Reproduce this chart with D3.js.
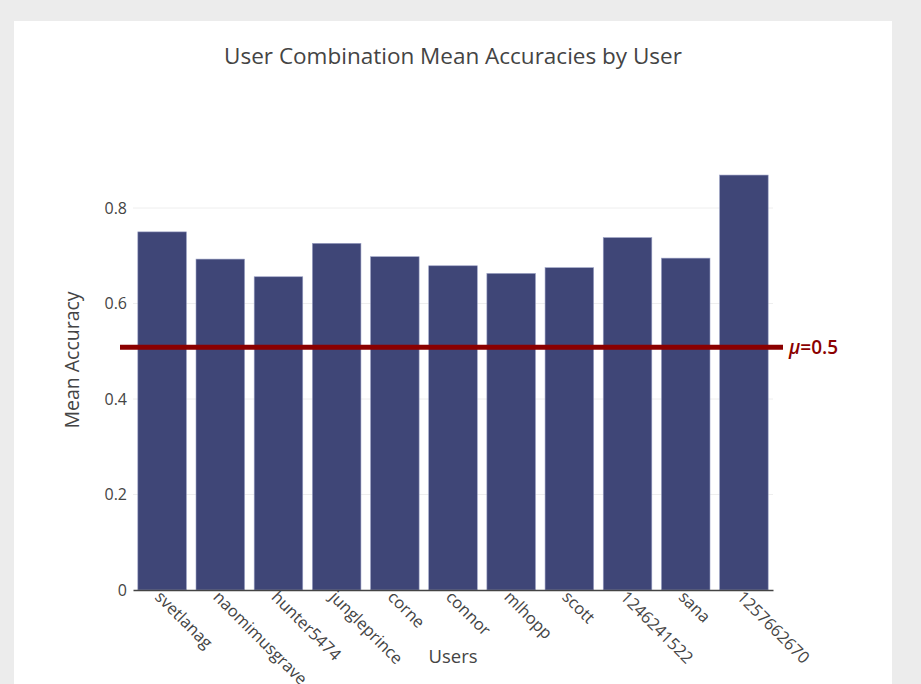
<!DOCTYPE html>
<html>
<head>
    <meta charset="utf-8">
    <title>User Combination Mean Accuracies by User</title>
    <style type="text/css">
        body { margin: 0; background: #ececec; }
        .axis text { font-family: "Open Sans", sans-serif; fill: #444; }
        .grid line { stroke: #eee; }
    </style>
</head>
<body>
<script src="https://cdn.jsdelivr.net/npm/d3@7/dist/d3.min.js"></script>
<script type="text/javascript">
    /*========= DATA =========*/
    var users = ['svetlanag', 'naomimusgrave', 'hunter5474', 'jungleprince', 'corne', 'connor',
                 'mlhopp', 'scott', '1246241522', 'sana', '1257662670'];
    var meanAccuracy = [0.750, 0.693, 0.656, 0.726, 0.698, 0.679, 0.663, 0.675, 0.738, 0.695, 0.869];
    var yTicks = [0, 0.2, 0.4, 0.6, 0.8];
    var chanceLevel = [0.5];

    /*========= SIZE =========*/
    var svgWidth = 921, svgHeight = 684;
    var plot = { left: 133, right: 773, zero: 590, top08: 208 };

    var svg = d3.select('body').append('svg')
        .attr('width', svgWidth).attr('height', svgHeight)
        .style('display', 'block');

    // card
    svg.append('rect').attr('x', 14).attr('y', 21).attr('width', 878).attr('height', 680).attr('fill', '#fff');

    // scales
    var x = d3.scaleBand().domain(users).range([plot.left, plot.right]).paddingInner(0.165).paddingOuter(0.083);
    var y = d3.scaleLinear().domain([0, 0.8]).range([plot.zero, plot.top08]);

    // grid
    svg.append('g').attr('class', 'grid')
        .selectAll('line').data(yTicks.filter(d => d > 0)).enter().append('line')
        .attr('x1', plot.left).attr('x2', plot.right)
        .attr('y1', d => y(d)).attr('y2', d => y(d));

    // bars
    svg.append('g').selectAll('rect').data(meanAccuracy).enter().append('rect')
        .attr('x', (d, i) => x(users[i]))
        .attr('y', d => y(d))
        .attr('width', x.bandwidth())
        .attr('height', d => y(0) - y(d))
        .attr('fill', '#3f4677')
        .attr('stroke', '#9aa0c4')
        .attr('stroke-width', 0.6);

    // y axis
    var yAxis = d3.axisLeft(y).tickValues(yTicks).tickSize(0).tickPadding(6)
        .tickFormat(d => d === 0 ? '0' : d3.format('.1f')(d));
    var yg = svg.append('g').attr('class', 'axis').attr('transform', 'translate(' + plot.left + ',0)').call(yAxis);
    yg.select('.domain').remove();
    yg.selectAll('text').attr('font-size', 16);

    // x axis
    var xAxis = d3.axisBottom(x).tickSize(0).tickPadding(0);
    var xg = svg.append('g').attr('class', 'axis').attr('transform', 'translate(0,' + plot.zero + ')').call(xAxis);
    xg.select('.domain').attr('stroke', '#444').attr('stroke-width', 1.5);
    xg.selectAll('.tick text')
        .attr('font-size', 16.5)
        .attr('text-anchor', 'start')
        .attr('dy', 0)
        .attr('y', 0)
        .attr('transform', 'translate(-8,8) rotate(45)');

    // mean line
    svg.append('g').selectAll('line').data(chanceLevel).enter().append('line')
        .attr('x1', 120).attr('x2', 783)
        .attr('y1', d => y(d) - 4).attr('y2', d => y(d) - 4)
        .attr('stroke', '#8b0000').attr('stroke-width', 5);
    svg.append('g').selectAll('text').data(chanceLevel).enter().append('text')
        .attr('x', 789).attr('y', d => y(d) + 3)
        .attr('font-family', '"Open Sans", sans-serif').attr('font-size', 19)
        .attr('font-weight', 600)
        .attr('fill', '#8b0000')
        .html(d => '<tspan font-style="italic">μ</tspan>=' + d);

    // titles
    svg.append('text').attr('x', 453).attr('y', 64).attr('text-anchor', 'middle')
        .attr('font-family', '"Open Sans", sans-serif').attr('font-size', 22.5).attr('fill', '#444')
        .text('User Combination Mean Accuracies by User');
    svg.append('text').attr('x', 453).attr('y', 663).attr('text-anchor', 'middle')
        .attr('font-family', '"Open Sans", sans-serif').attr('font-size', 18.5).attr('fill', '#444')
        .text('Users');
    svg.append('text').attr('transform', 'translate(79,360) rotate(-90)').attr('text-anchor', 'middle')
        .attr('font-family', '"Open Sans", sans-serif').attr('font-size', 19.5).attr('fill', '#444')
        .text('Mean Accuracy');
</script>
</body>
</html>
